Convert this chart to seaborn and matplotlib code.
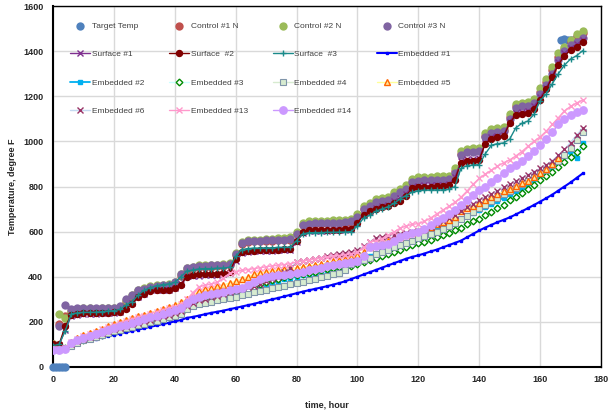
import matplotlib
matplotlib.use('Agg')
import matplotlib.pyplot as plt
import seaborn as sns

# time grid, every 2 hours
hours = list(range(0, 176, 2))

target_hours = [0, 1, 2, 3, 4, 167, 168, 169, 170, 171]
target_temp = [0, 0, 0, 0, 0, 1450, 1452, 1450, 1448, 1450]

control1 = [100, 190, 225, 245, 255, 255, 255, 255, 256, 258,
            258, 262, 290, 310, 335, 340, 350, 355, 358, 360,
            370, 405, 432, 438, 442, 444, 445, 446, 448, 450,
            495, 545, 555, 557, 558, 558, 560, 562, 562, 565,
            588, 628, 634, 636, 636, 637, 638, 638, 640, 643,
            665, 702, 715, 735, 740, 745, 765, 780, 795, 822,
            830, 832, 833, 835, 835, 838, 868, 945, 958, 960,
            962, 1025, 1045, 1048, 1052, 1110, 1155, 1162, 1165, 1178,
            1220, 1262, 1315, 1372, 1410, 1440, 1465, 1480]
control2 = [100, 235, 215, 250, 258, 260, 260, 258, 260, 262,
            262, 268, 295, 318, 340, 348, 358, 362, 365, 368,
            378, 412, 440, 445, 450, 452, 452, 454, 455, 460,
            505, 552, 562, 565, 565, 566, 568, 570, 572, 575,
            598, 638, 645, 646, 648, 648, 650, 650, 652, 655,
            680, 712, 725, 745, 750, 755, 775, 790, 805, 832,
            840, 842, 842, 845, 845, 848, 880, 958, 968, 970,
            972, 1035, 1055, 1058, 1062, 1120, 1165, 1172, 1175, 1190,
            1235, 1275, 1330, 1390, 1420, 1450, 1475, 1490]
control3 = [95, 180, 275, 255, 262, 262, 262, 260, 262, 262,
            263, 270, 300, 320, 341, 345, 355, 360, 362, 365,
            375, 410, 438, 442, 448, 448, 450, 450, 452, 455,
            500, 550, 558, 560, 560, 562, 562, 565, 565, 568,
            590, 630, 636, 637, 638, 638, 640, 640, 642, 645,
            665, 700, 712, 730, 735, 740, 760, 775, 790, 818,
            825, 828, 828, 830, 830, 832, 860, 940, 952, 955,
            958, 1020, 1038, 1040, 1045, 1100, 1148, 1155, 1158, 1170,
            1210, 1250, 1300, 1360, 1400, 1425, 1440, 1460]

surface1 = [98, 98, 165, 225, 232, 235, 235, 236, 238, 238,
            240, 244, 262, 285, 310, 325, 340, 342, 340, 343,
            350, 370, 402, 405, 405, 406, 408, 408, 410, 415,
            470, 505, 510, 512, 512, 515, 515, 518, 518, 520,
            555, 595, 602, 603, 604, 604, 605, 605, 607, 610,
            640, 675, 692, 705, 712, 718, 735, 748, 768, 798,
            802, 805, 805, 806, 806, 810, 840, 912, 920, 922,
            925, 995, 1018, 1022, 1028, 1088, 1125, 1130, 1135, 1155,
            1195, 1238, 1292, 1350, 1390, 1415, 1430, 1448]
surface2 = [100, 100, 180, 230, 235, 238, 238, 238, 240, 240,
            242, 245, 258, 280, 310, 325, 335, 340, 340, 342,
            348, 365, 400, 408, 410, 410, 412, 412, 415, 422,
            480, 510, 515, 516, 518, 518, 520, 520, 522, 525,
            560, 598, 605, 606, 607, 607, 608, 608, 610, 612,
            640, 672, 690, 700, 708, 712, 725, 735, 760, 792,
            798, 800, 800, 802, 802, 805, 830, 905, 912, 915,
            918, 990, 1012, 1018, 1022, 1080, 1118, 1122, 1125, 1145,
            1185, 1230, 1285, 1340, 1380, 1405, 1420, 1440]
surface3 = [95, 100, 160, 235, 240, 242, 242, 243, 245, 248,
            250, 255, 275, 290, 320, 340, 352, 360, 365, 368,
            375, 400, 425, 430, 435, 436, 436, 438, 438, 442,
            490, 520, 525, 527, 527, 528, 528, 530, 530, 532,
            560, 590, 595, 596, 596, 597, 597, 598, 598, 600,
            625, 660, 672, 690, 700, 710, 725, 745, 760, 775,
            782, 784, 784, 785, 785, 787, 800, 880, 893, 895,
            897, 945, 983, 990, 993, 1010, 1060, 1080, 1090, 1120,
            1180, 1210, 1255, 1300, 1338, 1365, 1380, 1402]

emb1 = [80, 80, 85, 98, 108, 115, 120, 126, 132, 137,
        142, 148, 154, 160, 166, 172, 178, 184, 190, 196,
        202, 208, 218, 222, 228, 234, 240, 245, 250, 256,
        262, 268, 274, 280, 287, 293, 300, 306, 313, 320,
        327, 334, 340, 346, 352, 358, 365, 372, 380, 390,
        400, 410, 420, 430, 440, 450, 460, 470, 480, 488,
        495, 503, 512, 520, 530, 540, 550, 560, 575, 590,
        605, 618, 630, 642, 652, 663, 676, 690, 704, 718,
        733, 748, 764, 782, 800, 818, 838, 858]
emb2 = [80, 80, 83, 98, 112, 122, 130, 138, 146, 154,
        162, 170, 177, 184, 190, 197, 204, 211, 218, 226,
        234, 242, 262, 272, 282, 290, 296, 302, 308, 313,
        318, 326, 336, 348, 360, 370, 377, 383, 390, 395,
        400, 406, 412, 418, 424, 430, 436, 442, 450, 458,
        465, 478, 492, 503, 512, 520, 530, 540, 550, 560,
        572, 584, 596, 608, 620, 633, 646, 658, 670, 682,
        695, 708, 722, 736, 750, 765, 778, 792, 806, 828,
        850, 868, 888, 910, 935, 955, 928, 992]
emb3 = [80, 80, 82, 97, 110, 120, 128, 136, 144, 152,
        160, 167, 174, 180, 187, 194, 200, 207, 214, 222,
        230, 238, 262, 278, 290, 296, 300, 305, 310, 315,
        320, 328, 340, 355, 368, 378, 385, 392, 398, 403,
        407, 412, 418, 423, 428, 433, 437, 441, 445, 448,
        455, 465, 475, 485, 492, 500, 510, 520, 530, 540,
        548, 556, 565, 575, 585, 595, 605, 618, 632, 645,
        658, 672, 688, 705, 720, 740, 755, 772, 790, 808,
        828, 845, 865, 887, 910, 932, 955, 978]
emb4 = [80, 80, 82, 95, 108, 118, 126, 134, 142, 150,
        158, 165, 172, 178, 185, 192, 198, 205, 212, 220,
        228, 235, 258, 270, 280, 285, 290, 295, 300, 306,
        312, 318, 325, 332, 338, 343, 348, 353, 360, 366,
        371, 378, 385, 392, 398, 404, 410, 418, 430, 455,
        467, 475, 485, 500, 510, 520, 530, 540, 550, 560,
        570, 580, 590, 600, 612, 625, 640, 655, 670, 688,
        705, 720, 735, 750, 765, 780, 795, 810, 825, 842,
        858, 875, 895, 915, 940, 970, 1005, 1040]
# Embedded #5 stops at hour 166
emb5 = [80, 80, 85, 112, 128, 140, 150, 160, 170, 180,
        190, 200, 208, 216, 224, 232, 240, 248, 256, 265,
        276, 288, 302, 318, 335, 345, 352, 358, 364, 372,
        380, 390, 400, 410, 418, 422, 426, 430, 434, 437,
        440, 444, 448, 452, 456, 462, 468, 474, 480, 488,
        496, 510, 530, 545, 553, 560, 568, 576, 585, 594,
        603, 612, 622, 632, 642, 652, 664, 690, 705, 715,
        725, 738, 752, 765, 778, 790, 802, 814, 826, 840,
        858, 878, 900, 925]
emb6 = [80, 80, 84, 100, 114, 125, 134, 143, 151, 159,
        167, 175, 182, 189, 196, 203, 210, 217, 224, 232,
        240, 250, 270, 282, 295, 302, 310, 316, 324, 332,
        340, 348, 356, 360, 370, 380, 390, 400, 420, 440,
        465, 470, 475, 480, 485, 490, 495, 500, 505, 510,
        518, 535, 555, 572, 577, 580, 584, 588, 594, 598,
        602, 610, 620, 632, 645, 660, 675, 692, 708, 724,
        740, 754, 768, 782, 796, 810, 824, 838, 852, 866,
        880, 896, 915, 938, 965, 995, 1028, 1058]
emb13 = [80, 80, 85, 110, 125, 137, 147, 157, 167, 177,
         187, 196, 204, 212, 220, 228, 236, 244, 252, 260,
         268, 280, 300, 330, 356, 362, 368, 375, 395, 415,
         422, 428, 432, 436, 440, 444, 448, 451, 454, 458,
         465, 470, 474, 478, 482, 486, 490, 494, 498, 502,
         508, 530, 552, 560, 568, 584, 598, 615, 625, 632,
         636, 645, 660, 678, 695, 712, 730, 752, 780, 810,
         836, 855, 872, 890, 905, 918, 935, 955, 978, 1000,
         1020, 1045, 1075, 1105, 1135, 1155, 1170, 1183]
emb14 = [75, 75, 80, 105, 120, 130, 138, 146, 154, 162,
         172, 180, 188, 196, 204, 212, 220, 228, 236, 244,
         252, 262, 285, 300, 312, 318, 322, 326, 332, 340,
         345, 352, 362, 375, 390, 400, 404, 406, 408, 412,
         416, 422, 428, 434, 440, 446, 452, 458, 462, 466,
         470, 490, 530, 535, 540, 545, 560, 577, 585, 592,
         600, 612, 628, 645, 662, 680, 698, 718, 740, 762,
         784, 800, 818, 838, 860, 880, 895, 915, 935, 958,
         983, 1010, 1040, 1075, 1100, 1118, 1130, 1138]

labels = ['Target Temp', 'Control #1 N', 'Control #2 N', 'Control #3 N',
          'Surface #1', 'Surface  #2', 'Surface  #3', 'Embedded #1',
          'Embedded #2', 'Embedded #3', 'Embedded #4', 'Embedded #5',
          'Embedded #6', 'Embedded #13', 'Embedded #14']

sns.set_style('whitegrid')
plt.rcParams['font.family'] = ['Liberation Sans', 'DejaVu Sans']

fig = plt.figure(figsize=(6.09, 4.16), dpi=100)
ax = fig.add_axes([53 / 609, 49 / 416, 548 / 609, 361 / 416])

# marker-only series
sns.scatterplot(x=target_hours, y=target_temp, ax=ax, label=labels[0],
                color='#4F81BD', s=36, linewidth=0, zorder=3.0, clip_on=False)
sns.scatterplot(x=hours, y=control1, ax=ax, label=labels[1],
                color='#C0504D', s=36, linewidth=0, zorder=3.1)
sns.scatterplot(x=hours, y=control2, ax=ax, label=labels[2],
                color='#9BBB59', s=36, linewidth=0, zorder=3.2)
sns.scatterplot(x=hours, y=control3, ax=ax, label=labels[3],
                color='#8064A2', s=36, linewidth=0, zorder=3.3)


def draw(y, label, color, marker, ms, mfc=None, mec=None, mew=1.0, lw=1.0, z=4):
    sns.lineplot(x=hours[:len(y)], y=y, ax=ax, label=label, color=color,
                 marker=marker, markersize=ms,
                 markerfacecolor=mfc if mfc else color,
                 markeredgecolor=mec if mec else color,
                 markeredgewidth=mew, linewidth=lw, zorder=z)


draw(surface1, labels[4], '#7F2F8F', 'x', 4, z=3.4)
draw(surface2, labels[5], '#800000', 'o', 4.3, z=3.5)
draw(surface3, labels[6], '#1A8A8A', '+', 4.5, z=3.6)
draw(emb1, labels[7], '#0000FF', 's', 1.8, lw=1.5, z=3.7)
draw(emb2, labels[8], '#00B0F0', 's', 2.5, lw=1.3, z=3.8)
draw(emb3, labels[9], '#CCFFFF', 'D', 3.4, mfc='white', mec='#008A00', z=3.9)
draw(emb4, labels[10], '#D7EBD0', 's', 4, mfc='#D7EBD0', mec='#8095AA', mew=0.8, z=4.0)
draw(emb5, labels[11], '#FFFF99', '^', 4, mfc='#FFE699', mec='#FF6600', z=4.1)
draw(emb6, labels[12], '#C5D9F1', 'x', 4, mec='#993366', z=4.2)
draw(emb13, labels[13], '#FF99CC', 'x', 4.5, z=4.3)
draw(emb14, labels[14], '#CC99FF', 'o', 5.3, z=4.4)

ax.set_xlim(0, 180)
ax.set_ylim(0, 1600)
ax.set_xticks(range(0, 181, 20))
ax.set_yticks(range(0, 1601, 200))
ax.grid(True, color='#D9D9D9', linewidth=1.0)
ax.tick_params(length=0, labelsize=6.5, colors='#262626')
ax.tick_params(axis='x', pad=6)
ax.tick_params(axis='y', pad=7)
for lab in ax.get_xticklabels() + ax.get_yticklabels():
    lab.set_fontweight('bold')
for side in ['top', 'right']:
    ax.spines[side].set_color('black')
    ax.spines[side].set_linewidth(1.0)
for side in ['left', 'bottom']:
    ax.spines[side].set_color('black')
    ax.spines[side].set_linewidth(1.5)

ax.set_xlabel('time, hour', fontsize=6.5, fontweight='bold', color='#262626', va='center')
ax.xaxis.set_label_coords(0.5, -0.105)
ax.set_ylabel('Temperature, degree F', fontsize=6.5, fontweight='bold', color='#262626', va='center')
ax.yaxis.set_label_coords(-0.0745, 0.5)

handles, labs = ax.get_legend_handles_labels()
by_label = dict(zip(labs, handles))
order = [0, 4, 8, 12, 1, 5, 9, 13, 2, 6, 10, 14, 3, 7, 11]
leg = ax.legend([by_label[labels[i]] for i in order], [labels[i] for i in order],
                ncol=4, loc='upper left', bbox_to_anchor=(0.031, 0.955),
                frameon=False, fontsize=6.0, handlelength=2.4, handletextpad=0.2,
                columnspacing=3.0, labelspacing=2.45, borderpad=0, borderaxespad=0)
for t in leg.get_texts():
    t.set_color('#404040')

fig.savefig('out.png', dpi=100)
